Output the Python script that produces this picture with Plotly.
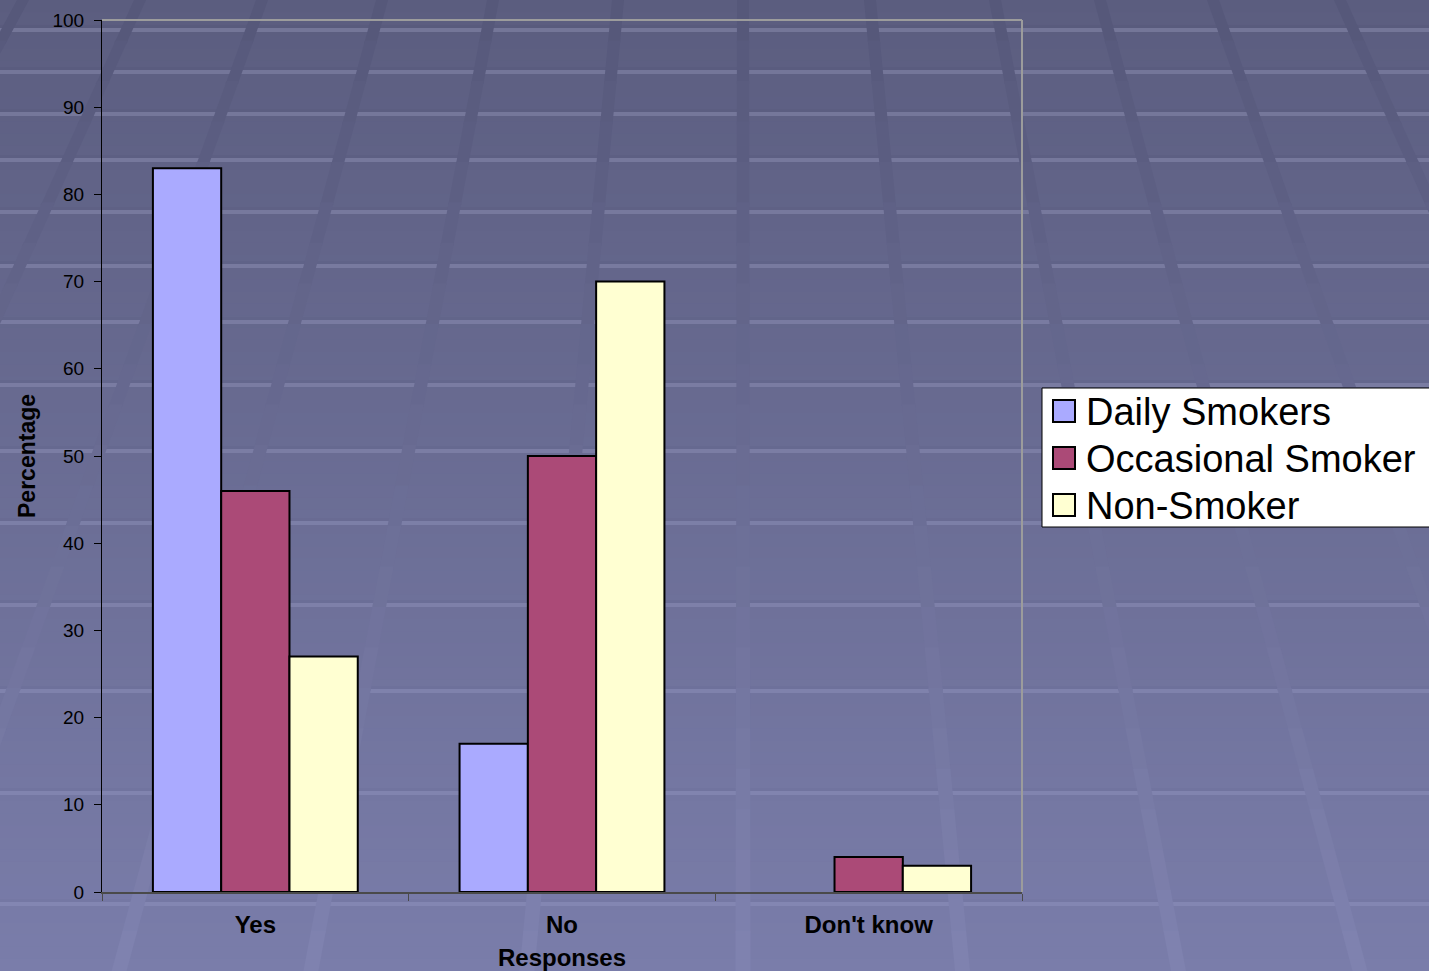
import plotly.graph_objects as go

# ---------------- data ----------------
categories = ["Yes", "No", "Don't know"]
daily_smokers = [83, 17, 0]
occasional_smoker = [46, 50, 4]
non_smoker = [27, 70, 3]
series_names = ["Daily Smokers", "Occasional Smoker", "Non-Smoker"]
y_ticks = [0, 10, 20, 30, 40, 50, 60, 70, 80, 90, 100]

# ---------------- styling ----------------
W, H = 1429, 971
ML, MR, MT, MB = 102, 407, 20, 79
PW, PH = W - ML - MR, H - MT - MB
FONT = "Liberation Sans, Arial, Helvetica, sans-serif"
bar_colors = ["#AAAAFF", "#AB4A77", "#FFFFD2"]


def px(X):
    return (X - ML) / PW


def py(Y):
    return (H - MB - Y) / PH


def bg_rgb(Y):
    t = max(0.0, min(1.0, Y / H))
    top = (91, 93, 127)
    bot = (122, 125, 170)
    return tuple(top[i] + (bot[i] - top[i]) * t for i in range(3))


def rgb(c, d=0):
    return "rgb(%d,%d,%d)" % tuple(max(0, min(255, int(round(v + d)))) for v in c)


shapes = []
# vertical gradient background
n_bands = 80
for i in range(n_bands):
    y0 = H * i / n_bands
    y1 = H * (i + 1) / n_bands + 1
    shapes.append(dict(type="rect", xref="paper", yref="paper", layer="below",
                       x0=px(-5), x1=px(W + 5), y0=py(y0), y1=py(y1),
                       fillcolor=rgb(bg_rgb((y0 + y1) / 2)), line=dict(width=0)))

# horizontal light bands of the slide template
band_y = [29, 71, 113, 159, 211, 265, 321, 384, 450, 522, 604, 690, 792, 903]
for Y in band_y:
    t = Y / H
    light = 24 - 14 * t
    shapes.append(dict(type="rect", xref="paper", yref="paper", layer="below",
                       x0=px(-5), x1=px(W + 5), y0=py(Y - 4), y1=py(Y - 1),
                       fillcolor=rgb(bg_rgb(Y), -3), line=dict(width=0)))
    shapes.append(dict(type="rect", xref="paper", yref="paper", layer="below",
                       x0=px(-5), x1=px(W + 5), y0=py(Y - 1), y1=py(Y + 3),
                       fillcolor=rgb(bg_rgb(Y), light), line=dict(width=0)))

# converging diagonal stripes
vx = 743.0
k = 0.00075
stripe_top = [23, 140, 262, 382, 493, 618, 743, 870, 995, 1100, 1213, 1340]
n_seg = 24
for x0 in stripe_top:
    for s in range(n_seg):
        ya = H * s / n_seg
        yb = min(H + 5, H * (s + 1) / n_seg + 3)
        xa = vx + (x0 - vx) * (1 + k * ya)
        xb = vx + (x0 - vx) * (1 + k * yb)
        wa = 12 + 3 * ya / H
        wb = 12 + 3 * yb / H
        tm = (ya + yb) / 2 / H
        d = -6 + 12 * tm
        path = "M %f,%f L %f,%f L %f,%f L %f,%f Z" % (
            px(xa - wa / 2), py(ya), px(xa + wa / 2), py(ya),
            px(xb + wb / 2), py(yb), px(xb - wb / 2), py(yb))
        shapes.append(dict(type="path", xref="paper", yref="paper", layer="below",
                           path=path, fillcolor=rgb(bg_rgb((ya + yb) / 2), d),
                           line=dict(width=0)))

# plot-area frame (top and right, gray)
shapes.append(dict(type="line", xref="paper", yref="paper", layer="above",
                   x0=0, x1=1, y0=1, y1=1, line=dict(color="#9C9C9C", width=2)))
shapes.append(dict(type="line", xref="paper", yref="paper", layer="above",
                   x0=1, x1=1, y0=0, y1=1, line=dict(color="#9C9C9C", width=2)))

# legend box (drawn by hand so that it matches the slide's legend)
LEG_X0, LEG_Y0, LEG_Y1 = 1042, 388, 527
shapes.append(dict(type="rect", xref="paper", yref="paper", layer="above",
                   x0=px(LEG_X0), x1=px(W + 20), y0=py(LEG_Y1), y1=py(LEG_Y0),
                   fillcolor="white", line=dict(color="black", width=1)))
legend_item_y = [411, 458, 505]
annotations = []
for name, col, Y in zip(series_names, bar_colors, legend_item_y):
    shapes.append(dict(type="rect", xref="paper", yref="paper", layer="above",
                       x0=px(1053), x1=px(1075), y0=py(Y + 11), y1=py(Y - 11),
                       fillcolor=col, line=dict(color="black", width=2)))
    annotations.append(dict(xref="paper", yref="paper", x=px(1084), y=py(Y + 1),
                            xanchor="left", yanchor="middle", showarrow=False,
                            text=name,
                            font=dict(family=FONT, size=38, color="black")))

fig = go.Figure()
for name, vals, col in zip(series_names, [daily_smokers, occasional_smoker, non_smoker], bar_colors):
    fig.add_trace(go.Bar(
        x=categories, y=vals, name=name,
        marker=dict(color=col,
                    line=dict(color="black", width=[2 if v > 0 else 0 for v in vals])),
    ))

fig.update_layout(
    width=W, height=H,
    margin=dict(l=ML, r=MR, t=MT, b=MB, autoexpand=False),
    paper_bgcolor="#6B6E9A",
    plot_bgcolor="rgba(0,0,0,0)",
    barmode="group", bargap=0.332, bargroupgap=0,
    font=dict(family=FONT, color="black"),
    shapes=shapes,
    annotations=annotations,
    showlegend=False,
)

fig.update_yaxes(
    range=[0, 100], tickvals=y_ticks, ticks="outside", ticklen=7, tickcolor="black",
    showline=True, linecolor="black", linewidth=1, showgrid=False, zeroline=False,
    tickfont=dict(family=FONT, size=19, color="black"), ticklabelstandoff=6,
    title=dict(text="Percentage", standoff=10,
               font=dict(family=FONT, size=23, color="black", weight="bold")),
)
fig.update_xaxes(
    ticks="outside", tickson="boundaries", ticklen=7, tickcolor="#4A4A4A",
    showline=True, linecolor="#4A4A4A", linewidth=2, showgrid=False,
    tickfont=dict(family=FONT, size=24, color="black", weight="bold"),
    ticklabelstandoff=10,
    title=dict(text="Responses", standoff=12,
               font=dict(family=FONT, size=24, color="black", weight="bold")),
)

fig.write_html("out.html")
